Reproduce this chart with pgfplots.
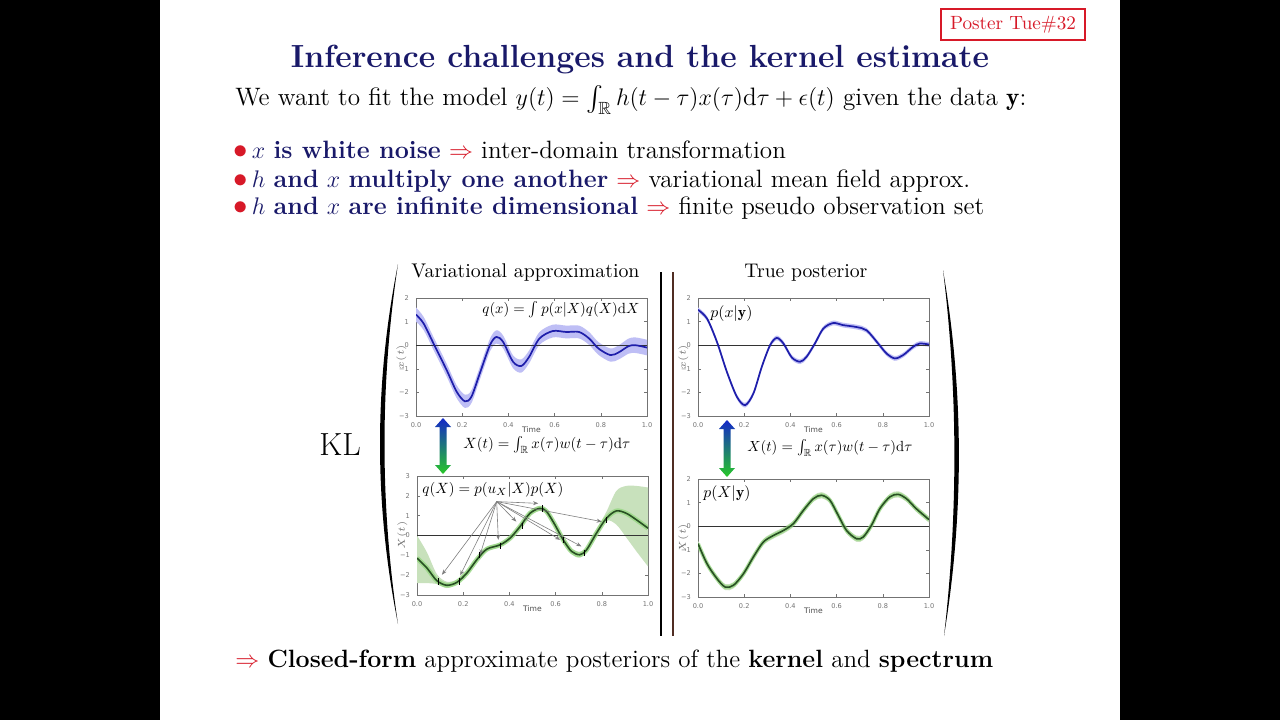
\documentclass[border=0pt]{standalone}
\usepackage{amsmath,amssymb}
\usepackage{fontspec}
\usepackage{pgfplots}
\pgfplotsset{compat=1.18}
\usepackage{pgfplotstable}
\usetikzlibrary{arrows.meta}
\newfontfamily\dejavu{DejaVu Sans}
\definecolor{navy}{RGB}{25,25,105}
\definecolor{bred}{RGB}{215,25,40}
\definecolor{lineblue}{RGB}{30,30,170}
\definecolor{bandblue}{RGB}{190,190,245}
\definecolor{linegreen}{RGB}{40,80,35}
\definecolor{glowgreen}{RGB}{150,215,130}
\definecolor{bandgreen}{RGB}{200,225,188}
\definecolor{arrblue}{RGB}{20,40,200}
\definecolor{arrgreen}{RGB}{40,200,40}
\definecolor{sepbrown}{RGB}{80,45,35}

\pgfplotstableread{
t m e
0.000 1.30 0.30
0.033 0.92 0.28
0.076 0.07 0.27
0.133 -1.06 0.27
0.176 -1.97 0.27
0.212 -2.38 0.28
0.240 -2.18 0.27
0.276 -1.20 0.27
0.320 0.00 0.27
0.348 0.35 0.28
0.377 0.14 0.27
0.420 -0.70 0.27
0.456 -0.88 0.28
0.490 -0.49 0.27
0.534 0.28 0.27
0.592 0.60 0.27
0.650 0.56 0.27
0.706 0.56 0.27
0.750 0.28 0.27
0.790 -0.14 0.27
0.842 -0.42 0.28
0.878 -0.30 0.30
0.920 -0.04 0.32
0.950 0.00 0.33
1.000 -0.10 0.33
}\tabA

\pgfplotstableread{
t m e
0.000 1.50 0.10
0.039 1.13 0.10
0.082 0.14 0.10
0.125 -1.13 0.10
0.168 -2.18 0.10
0.204 -2.54 0.10
0.240 -2.04 0.10
0.276 -0.92 0.10
0.312 0.00 0.10
0.341 0.31 0.10
0.370 0.07 0.10
0.406 -0.52 0.10
0.442 -0.70 0.10
0.470 -0.49 0.10
0.506 0.07 0.10
0.542 0.70 0.10
0.585 0.94 0.10
0.629 0.85 0.10
0.686 0.77 0.10
0.730 0.63 0.10
0.780 0.07 0.10
0.816 -0.35 0.10
0.852 -0.56 0.10
0.888 -0.42 0.10
0.931 -0.07 0.10
0.960 0.07 0.10
1.000 0.03 0.10
}\tabB

\pgfplotstableread{
t m lo hi
0.000 -1.14 -2.40 0.00
0.043 -1.64 -2.40 -0.85
0.086 -2.28 -2.45 -1.95
0.129 -2.51 -2.65 -2.33
0.173 -2.36 -2.45 -2.22
0.216 -1.89 -2.00 -1.78
0.259 -1.22 -1.32 -1.12
0.302 -0.69 -0.80 -0.58
0.360 -0.47 -0.57 -0.37
0.403 -0.13 -0.23 -0.03
0.446 0.45 0.35 0.55
0.489 1.12 1.00 1.24
0.532 1.37 1.25 1.50
0.561 1.21 1.08 1.34
0.597 0.54 0.42 0.66
0.633 -0.22 -0.32 -0.12
0.669 -0.80 -0.95 -0.65
0.705 -0.97 -1.12 -0.82
0.734 -0.72 -0.84 -0.60
0.777 0.12 0.00 0.30
0.820 0.87 0.75 1.20
0.863 1.24 0.55 2.25
0.906 1.12 -0.10 2.50
0.950 0.79 -0.80 2.50
1.000 0.37 -1.56 2.42
}\tabC

\pgfplotstableread{
t m e
0.000 -0.74 0.13
0.039 -1.59 0.13
0.082 -2.22 0.13
0.118 -2.58 0.13
0.154 -2.50 0.13
0.197 -2.01 0.13
0.240 -1.30 0.13
0.283 -0.67 0.13
0.327 -0.39 0.13
0.370 -0.18 0.13
0.413 0.11 0.13
0.456 0.67 0.13
0.500 1.17 0.13
0.535 1.31 0.13
0.571 1.10 0.13
0.607 0.46 0.13
0.643 -0.18 0.13
0.686 -0.53 0.13
0.715 -0.46 0.13
0.751 0.04 0.13
0.787 0.74 0.13
0.830 1.24 0.13
0.866 1.35 0.13
0.902 1.17 0.13
0.945 0.74 0.13
1.000 0.28 0.13
}\tabD

\pgfplotsset{panel/.style={
  scale only axis, anchor=south west,
  width=115.5pt, height=59pt,
  xmin=0, xmax=1, ymin=-3, ymax=2,
  xtick={0,0.2,0.4,0.6,0.8,1.0},
  xticklabels={0.0,0.2,0.4,0.6,0.8,1.0},
  ytick={-3,-2,-1,0,1,2},
  yticklabels={−3,−2,−1,0,1,2},
  axis line style={black!55, line width=0.35pt},
  major tick length=1.5pt,
  tick style={black!55, line width=0.3pt},
  tick label style={font=\dejavu\fontsize{3.3}{4}\selectfont, text=black!55},
  xlabel={Time},
  xlabel style={font=\dejavu\fontsize{3.8}{4.5}\selectfont, text=black!70, yshift=7.5pt},
  ylabel style={font=\fontsize{3.6}{4}\selectfont, text=black!55, yshift=-10.5pt},
}}

\begin{document}
\begin{tikzpicture}[x=0.5pt,y=0.5pt]
\fill[white] (0,0) rectangle (1280,720);
\fill[black] (0,0) rectangle (160,720);
\fill[black] (1120,0) rectangle (1280,720);

% top-left
\begin{axis}[panel, at={(208pt,152pt)}, ylabel={$x(t)$}]
\addplot[draw=none, stack plots=y, forget plot, smooth] table[x=t, y expr=\thisrow{m}-\thisrow{e}] {\tabA};
\addplot[fill=bandblue, draw=none, stack plots=y, smooth] table[x=t, y expr=2*\thisrow{e}] {\tabA} \closedcycle;
\addplot[black!80, line width=0.4pt] coordinates {(0,0) (1,0)};
\addplot[lineblue, line width=0.85pt, smooth] table[x=t, y=m] {\tabA};
\end{axis}

% top-right
\begin{axis}[panel, at={(349pt,152pt)}, ylabel={$x(t)$}]
\addplot[draw=none, stack plots=y, forget plot, smooth] table[x=t, y expr=\thisrow{m}-\thisrow{e}] {\tabB};
\addplot[fill=bandblue, draw=none, stack plots=y, smooth] table[x=t, y expr=2*\thisrow{e}] {\tabB} \closedcycle;
\addplot[black!80, line width=0.4pt] coordinates {(0,0) (1,0)};
\addplot[lineblue, line width=0.85pt, smooth] table[x=t, y=m] {\tabB};
\end{axis}

% bottom-left
\begin{axis}[panel, at={(208.5pt,62.5pt)}, height=59.5pt, ymax=3,
  ytick={-3,-2,-1,0,1,2,3}, yticklabels={−3,−2,−1,0,1,2,3}, ylabel={$X(t)$}]
\addplot[draw=none, stack plots=y, forget plot, smooth] table[x=t, y=lo] {\tabC};
\addplot[fill=bandgreen, draw=none, stack plots=y, smooth] table[x=t, y expr=\thisrow{hi}-\thisrow{lo}] {\tabC} \closedcycle;
\addplot[black!80, line width=0.4pt] coordinates {(0,0) (1,0)};
\addplot[glowgreen, line width=2.4pt, smooth, opacity=0.8] table[x=t, y=m] {\tabC};
\addplot[linegreen, line width=0.8pt, smooth] table[x=t, y=m] {\tabC};
\addplot[only marks, mark=|, mark size=1.6pt, black, mark options={line width=0.5pt}] coordinates {
(0.094,-2.31) (0.183,-2.31) (0.270,-0.97) (0.363,-0.52) (0.457,0.49)
(0.544,1.37) (0.636,-0.22) (0.727,-0.89) (0.820,0.79)};
\draw[-{Stealth[length=2.6pt,width=2pt]}, black!50, line width=0.3pt] (axis cs:0.345,1.71) -- (axis cs:0.108,-1.98);
\draw[-{Stealth[length=2.6pt,width=2pt]}, black!50, line width=0.3pt] (axis cs:0.345,1.71) -- (axis cs:0.187,-2.01);
\draw[-{Stealth[length=2.6pt,width=2pt]}, black!50, line width=0.3pt] (axis cs:0.345,1.71) -- (axis cs:0.273,-0.97);
\draw[-{Stealth[length=2.6pt,width=2pt]}, black!50, line width=0.3pt] (axis cs:0.345,1.71) -- (axis cs:0.352,-0.22);
\draw[-{Stealth[length=2.6pt,width=2pt]}, black!50, line width=0.3pt] (axis cs:0.345,1.71) -- (axis cs:0.430,0.70);
\draw[-{Stealth[length=2.6pt,width=2pt]}, black!50, line width=0.3pt] (axis cs:0.345,1.71) -- (axis cs:0.525,1.62);
\draw[-{Stealth[length=2.6pt,width=2pt]}, black!50, line width=0.3pt] (axis cs:0.345,1.71) -- (axis cs:0.620,-0.22);
\draw[-{Stealth[length=2.6pt,width=2pt]}, black!50, line width=0.3pt] (axis cs:0.345,1.71) -- (axis cs:0.712,-0.55);
\draw[-{Stealth[length=2.6pt,width=2pt]}, black!50, line width=0.3pt] (axis cs:0.345,1.71) -- (axis cs:0.800,0.70);
\end{axis}

% bottom-right
\begin{axis}[panel, at={(349pt,61.5pt)}, ylabel={$X(t)$}]
\addplot[draw=none, stack plots=y, forget plot, smooth] table[x=t, y expr=\thisrow{m}-\thisrow{e}] {\tabD};
\addplot[fill=bandgreen, draw=none, stack plots=y, smooth] table[x=t, y expr=2*\thisrow{e}] {\tabD} \closedcycle;
\addplot[black!80, line width=0.4pt] coordinates {(0,0) (1,0)};
\addplot[glowgreen, line width=2pt, smooth, opacity=0.7] table[x=t, y=m] {\tabD};
\addplot[linegreen, line width=0.8pt, smooth] table[x=t, y=m] {\tabD};
\end{axis}

% texts
\node[anchor=base, inner sep=0, text=navy, font=\fontsize{16}{19}\selectfont\bfseries] at (640,653) {Inference challenges and the kernel estimate};
\node[anchor=base west, inner sep=0, font=\fontsize{12.6}{14}\selectfont] at (235,615)
  {We want to fit the model $y(t)=\int_{\mathbb{R}} h(t-\tau)x(\tau)\mathrm{d}\tau+\epsilon(t)$ given the data $\mathbf{y}$:};
\node[anchor=base west, inner sep=0, font=\fontsize{12.55}{14}\selectfont] at (233,562)
  {{\color{bred}\scalebox{1.2}{$\bullet$}}\,{\color{navy}$x$ \textbf{is white noise}} {\color{bred}$\Rightarrow$} inter-domain transformation};
\node[anchor=base west, inner sep=0, font=\fontsize{12.55}{14}\selectfont] at (233,533)
  {{\color{bred}\scalebox{1.2}{$\bullet$}}\,{\color{navy}$h$ \textbf{and} $x$ \textbf{multiply one another}} {\color{bred}$\Rightarrow$} variational mean field approx.};
\node[anchor=base west, inner sep=0, font=\fontsize{12.55}{14}\selectfont] at (233,506)
  {{\color{bred}\scalebox{1.2}{$\bullet$}}\,{\color{navy}$h$ \textbf{and} $x$ \textbf{are infinite dimensional}} {\color{bred}$\Rightarrow$} finite pseudo observation set};
\node[anchor=base west, inner sep=0, font=\fontsize{12.5}{14}\selectfont] at (235,53)
  {{\color{bred}$\Rightarrow$} \textbf{Closed-form} approximate posteriors of the \textbf{kernel} and \textbf{spectrum}};
\node[anchor=base west, inner sep=0, font=\fontsize{16}{19}\selectfont] at (319,265) {KL};

\node[anchor=base west, inner sep=0] at (411,443) {\resizebox{114pt}{!}{Variational approximation}};
\node[anchor=base west, inner sep=0] at (744,443) {\resizebox{61.5pt}{!}{True posterior}};

\node[anchor=base west, inner sep=0] at (482,407) {\resizebox{78.5pt}{!}{$q(x)=\int p(x|X)q(X)\mathrm{d}X$}};
\node[anchor=base west, inner sep=0] at (710,403) {\resizebox{21pt}{!}{$p(x|\mathbf{y})$}};
\node[anchor=base west, inner sep=0] at (422,227) {\resizebox{70.5pt}{!}{$q(X)=p(u_X|X)p(X)$}};
\node[anchor=base west, inner sep=0] at (703,223) {\resizebox{23.5pt}{!}{$p(X|\mathbf{y})$}};
\node[anchor=base west, inner sep=0] at (463,272) {\resizebox{83.5pt}{!}{$X(t)=\int_{\mathbb{R}} x(\tau)w(t-\tau)\mathrm{d}\tau$}};
\node[anchor=base west, inner sep=0] at (747,269) {\resizebox{82.5pt}{!}{$X(t)=\int_{\mathbb{R}} x(\tau)w(t-\tau)\mathrm{d}\tau$}};

% double arrows
\shade[top color=arrblue, bottom color=arrgreen] (443,302) -- (451,293) -- (446.5,293) -- (446.5,255) -- (451,255) -- (443,246) -- (435,255) -- (439.5,255) -- (439.5,293) -- (435,293) -- cycle;
\shade[top color=arrblue, bottom color=arrgreen] (727,300) -- (735,291) -- (730.5,291) -- (730.5,252) -- (735,252) -- (727,243) -- (719,252) -- (723.5,252) -- (723.5,291) -- (719,291) -- cycle;

% parentheses and separators
\fill[black] (398,456) .. controls (374,336) and (374,216) .. (398,96) .. controls (380,216) and (380,336) .. cycle;
\fill[black] (943,450) .. controls (964,328) and (964,206) .. (944,84) .. controls (958,206) and (958,328) .. cycle;
\draw[black, line width=1.3pt] (661,448) -- (661,84);
\draw[sepbrown, line width=1.3pt] (673,448) -- (673,84);

% poster box
\draw[bred, line width=0.6pt] (941,711) rectangle (1085,680);
\node[anchor=base, inner sep=0, text=bred] at (1013,690) {\resizebox{63pt}{!}{Poster Tue\#32}};

\pgfresetboundingbox
\path[use as bounding box] (0,0) rectangle (1280,720);
\end{tikzpicture}
\end{document}
